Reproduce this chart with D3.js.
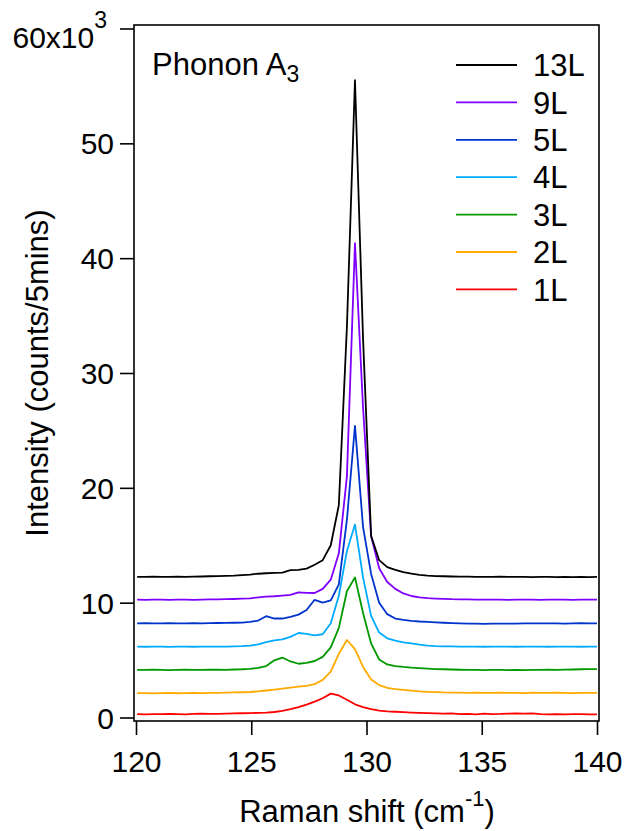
<head>
	<title>Phonon A3 Raman</title>
	<meta charset="utf-8"/>
	<style>
		body { margin: 0; background: #fff; }
		svg text { font-family: "Liberation Sans", Arial, sans-serif; fill: #000; }
	</style>
</head>
<body>
<div id="my_dataviz"></div>

<script src="https://d3js.org/d3.v7.min.js"></script>
<script>
    // Raman shift (cm-1), shared by every layer
    var shift = [
        120.05,120.40,120.75,121.10,121.45,121.80,122.15,122.50,122.85,123.20,
        123.55,123.90,124.25,124.60,124.95,125.30,125.65,126.00,126.35,126.70,
        127.05,127.40,127.75,128.10,128.45,128.80,129.15,129.50,129.85,130.20,
        130.55,130.90,131.25,131.60,131.95,132.30,132.65,133.00,133.35,133.70,
        134.05,134.40,134.75,135.10,135.45,135.80,136.15,136.50,136.85,137.20,
        137.55,137.90,138.25,138.60,138.95,139.30,139.65,140.00
    ];

    // intensity in units of 10^3 counts / 5 mins
    var L13 = [
        12.25,12.24,12.26,12.25,12.24,12.26,12.25,12.27,12.28,12.30,
        12.32,12.34,12.36,12.40,12.45,12.52,12.56,12.60,12.62,12.84,
        12.86,12.96,13.30,13.70,15.0,18.5,34.0,55.5,33.0,15.8,
        13.70,13.10,12.85,12.65,12.52,12.42,12.36,12.32,12.30,12.28,
        12.27,12.26,12.25,12.24,12.25,12.26,12.24,12.25,12.24,12.23,
        12.24,12.25,12.23,12.24,12.23,12.24,12.23,12.24
    ];
    var L9 = [
        10.26,10.25,10.27,10.26,10.25,10.27,10.26,10.25,10.27,10.28,
        10.28,10.30,10.32,10.35,10.38,10.46,10.52,10.56,10.62,10.68,
        10.90,10.86,10.84,11.20,12.00,14.3,21.0,41.3,27.0,15.8,
        13.0,11.8,11.2,10.8,10.58,10.46,10.40,10.36,10.33,10.30,
        10.29,10.28,10.27,10.26,10.27,10.26,10.25,10.26,10.27,10.26,
        10.25,10.26,10.27,10.26,10.25,10.26,10.27,10.26
    ];
    var L5 = [
        8.20,8.21,8.19,8.20,8.22,8.20,8.19,8.21,8.20,8.22,
        8.23,8.24,8.25,8.27,8.32,8.44,8.82,8.62,8.62,8.76,
        8.96,9.36,10.25,10.00,10.20,11.6,17.2,25.4,16.6,12.5,
        10.0,9.00,8.62,8.50,8.42,8.36,8.32,8.28,8.25,8.22,
        8.20,8.18,8.17,8.16,8.17,8.18,8.17,8.18,8.19,8.20,
        8.19,8.20,8.19,8.18,8.20,8.21,8.20,8.20
    ];
    var L4 = [
        6.17,6.16,6.18,6.17,6.15,6.17,6.18,6.16,6.17,6.18,
        6.17,6.18,6.20,6.22,6.26,6.36,6.56,6.72,6.80,7.02,
        7.36,7.28,7.15,7.25,8.20,10.6,14.5,16.8,12.2,8.85,
        7.40,6.90,6.70,6.55,6.46,6.34,6.26,6.22,6.20,6.19,
        6.18,6.17,6.18,6.16,6.17,6.18,6.17,6.16,6.17,6.18,
        6.17,6.16,6.17,6.18,6.17,6.16,6.17,6.17
    ];
    var L3 = [
        4.15,4.14,4.16,4.15,4.13,4.15,4.16,4.14,4.15,4.17,
        4.16,4.15,4.18,4.20,4.24,4.32,4.48,4.98,5.22,4.88,
        4.68,4.76,4.92,5.28,6.10,7.80,11.0,12.2,9.10,6.45,
        5.05,4.62,4.48,4.40,4.34,4.30,4.26,4.22,4.20,4.18,
        4.16,4.15,4.14,4.13,4.14,4.15,4.13,4.14,4.13,4.15,
        4.14,4.16,4.15,4.17,4.18,4.20,4.22,4.22
    ];
    var L2 = [
        2.12,2.13,2.10,2.12,2.14,2.11,2.12,2.15,2.13,2.14,
        2.15,2.16,2.18,2.20,2.22,2.28,2.35,2.43,2.52,2.60,
        2.68,2.76,2.90,3.28,4.00,5.55,6.75,5.95,4.40,3.30,
        2.82,2.58,2.47,2.40,2.34,2.28,2.24,2.21,2.18,2.17,
        2.16,2.15,2.16,2.14,2.15,2.16,2.14,2.15,2.13,2.16,
        2.15,2.14,2.16,2.15,2.13,2.14,2.15,2.14
    ];
    var L1 = [
        0.30,0.28,0.30,0.29,0.31,0.30,0.27,0.31,0.33,0.32,
        0.31,0.34,0.36,0.37,0.38,0.40,0.43,0.48,0.58,0.72,
        0.90,1.12,1.38,1.68,2.08,1.92,1.55,1.15,0.90,0.72,
        0.60,0.54,0.50,0.46,0.43,0.40,0.38,0.36,0.33,0.36,
        0.30,0.32,0.28,0.33,0.30,0.31,0.34,0.35,0.33,0.36,
        0.30,0.27,0.30,0.28,0.29,0.30,0.27,0.28
    ];

    var names  = ["13L", "9L", "5L", "4L", "3L", "2L", "1L"];
    var layers = [L13, L9, L5, L4, L3, L2, L1];
    var colors = ["#000000", "#7f00ff", "#0033cc", "#00aaff", "#009900", "#ffaa00", "#ff0000"];
    var xTicks = [120, 125, 130, 135, 140];
    var yTicks = [0, 10, 20, 30, 40, 50, 60];

    var width = 626, height = 831;
    var frame = {left: 134, right: 599, top: 25, bottom: 721};
    var tickFont = "30px", labelFont = "31px";

    var svg = d3.select("#my_dataviz")
        .append("svg")
        .attr("width", width)
        .attr("height", height);

    var x = d3.scaleLinear()
        .domain([120, 140])
        .range([136, 597]);

    var y = d3.scaleLinear()
        .domain([0, 60])
        .range([717.5, 28.5]);

    // spectra, drawn bottom layer first so 13L sits on top
    var line = d3.line()
        .x(function(d, i) { return x(shift[i]); })
        .y(function(d) { return y(d); });

    for (var s = layers.length - 1; s >= 0; s--) {
        svg.append("path")
            .datum(layers[s])
            .attr("fill", "none")
            .attr("stroke", colors[s])
            .attr("stroke-width", 1.8)
            .attr("stroke-linejoin", "round")
            .attr("d", line);
    }

    // box round the plot
    svg.append("rect")
        .attr("x", frame.left)
        .attr("y", frame.top)
        .attr("width", frame.right - frame.left)
        .attr("height", frame.bottom - frame.top)
        .attr("fill", "none")
        .attr("stroke", "#000")
        .attr("stroke-width", 1.6);

    // X axis
    var gx = svg.append("g")
        .attr("transform", "translate(0," + frame.bottom + ")")
        .call(d3.axisBottom(x).tickValues(xTicks).tickSize(14).tickSizeOuter(0).tickFormat(d3.format("d")));
    gx.select(".domain").remove();
    gx.selectAll("line").attr("stroke-width", 1.6);
    gx.selectAll("text")
        .attr("y", 51)
        .attr("dy", 0)
        .style("font-size", tickFont);

    // Y axis
    var gy = svg.append("g")
        .attr("transform", "translate(" + frame.left + ",0)")
        .call(d3.axisLeft(y).tickValues(yTicks).tickSize(14).tickSizeOuter(0).tickFormat(d3.format("d")));
    gy.select(".domain").remove();
    gy.selectAll("line").attr("stroke-width", 1.6);
    gy.selectAll("text")
        .attr("x", -20)
        .attr("dy", "0.35em")
        .style("font-size", tickFont);

    // top label reads 60x10^3 and sits a bit lower, like the original
    var topLabel = gy.selectAll(".tick").filter(function(d) { return d === 60; }).select("text");
    topLabel.text(null)
        .attr("x", -27)
        .attr("dy", 0)
        .attr("y", 19);
    topLabel.append("tspan").text("60x10");
    topLabel.append("tspan")
        .attr("dy", -20)
        .style("font-size", "23px")
        .text("3");

    // axis titles
    svg.append("text")
        .attr("transform", "translate(48,373) rotate(-90)")
        .attr("text-anchor", "middle")
        .style("font-size", labelFont)
        .text("Intensity (counts/5mins)");

    var xt = svg.append("text")
        .attr("x", 367)
        .attr("y", 822)
        .attr("text-anchor", "middle")
        .style("font-size", labelFont);
    xt.append("tspan").text("Raman shift (cm");
    xt.append("tspan").attr("dy", -16).style("font-size", "22px").text("-1");
    xt.append("tspan").attr("dy", 16).text(")");

    // panel title
    var title = svg.append("text")
        .attr("x", 152)
        .attr("y", 75)
        .style("font-size", labelFont);
    title.append("tspan").text("Phonon A");
    title.append("tspan").attr("dy", 7).style("font-size", "23px").text("3");

    // legend
    var legend = svg.selectAll("g.legend")
        .data(names)
        .enter()
        .append("g")
        .attr("class", "legend")
        .attr("transform", function(d, i) { return "translate(456," + (65 + i * 37.4) + ")"; });
    legend.append("line")
        .attr("x1", 0)
        .attr("x2", 61)
        .attr("stroke", function(d, i) { return colors[i]; })
        .attr("stroke-width", 1.8);
    legend.append("text")
        .attr("x", 77)
        .attr("dy", "0.36em")
        .style("font-size", labelFont)
        .text(function(d) { return d; });
</script>
</body>
